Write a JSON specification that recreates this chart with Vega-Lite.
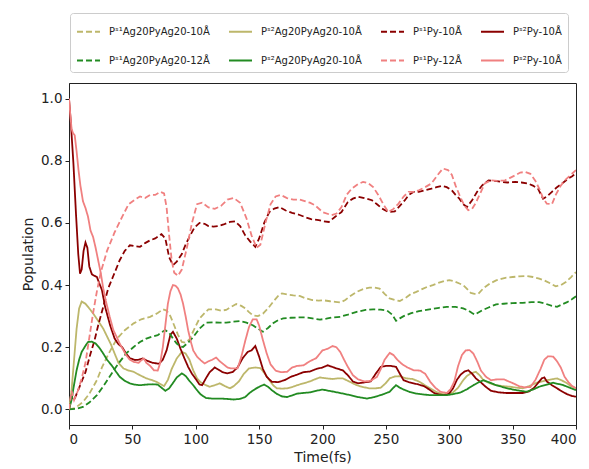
{
"$schema": "https://vega.github.io/schema/vega-lite/v6.json",
"width": 507, "height": 342,
"autosize": {"type": "none"},
"padding": {"left": 69, "top": 83, "right": 13, "bottom": 44},
"background": "white",
"config": {
  "font": "DejaVu Sans",
  "view": {"stroke": "#222", "strokeWidth": 1},
  "axis": {"grid": false, "domainColor": "#222", "tickColor": "#222", "labelColor": "#222", "titleColor": "#222", "labelFontSize": 13.5, "titleFontSize": 14, "titleFontWeight": "normal", "tickSize": 4, "labelPadding": 3}
},
"datasets": {"pts": [
{"s":"k1","t":0,"v":0},{"s":"k1","t":5,"v":0.005},{"s":"k1","t":11,"v":0.024},{"s":"k1","t":16,"v":0.05},{"s":"k1","t":22,"v":0.094},{"s":"k1","t":26,"v":0.135},{"s":"k1","t":30,"v":0.169},{"s":"k1","t":34,"v":0.2},{"s":"k1","t":38,"v":0.228},{"s":"k1","t":44,"v":0.255},{"s":"k1","t":51,"v":0.277},{"s":"k1","t":57,"v":0.29},{"s":"k1","t":64,"v":0.298},{"s":"k1","t":70,"v":0.31},{"s":"k1","t":74,"v":0.322},{"s":"k1","t":77,"v":0.318},{"s":"k1","t":80,"v":0.3},{"s":"k1","t":83,"v":0.27},{"s":"k1","t":86,"v":0.24},{"s":"k1","t":89,"v":0.217},{"s":"k1","t":92,"v":0.215},{"s":"k1","t":95,"v":0.225},{"s":"k1","t":99,"v":0.26},{"s":"k1","t":103,"v":0.293},{"s":"k1","t":107,"v":0.31},{"s":"k1","t":110,"v":0.322},{"s":"k1","t":116,"v":0.322},{"s":"k1","t":120,"v":0.318},{"s":"k1","t":124,"v":0.32},{"s":"k1","t":128,"v":0.33},{"s":"k1","t":132,"v":0.339},{"s":"k1","t":136,"v":0.333},{"s":"k1","t":139,"v":0.325},{"s":"k1","t":142,"v":0.313},{"s":"k1","t":145,"v":0.303},{"s":"k1","t":149,"v":0.3},{"s":"k1","t":153,"v":0.308},{"s":"k1","t":157,"v":0.325},{"s":"k1","t":161,"v":0.346},{"s":"k1","t":165,"v":0.365},{"s":"k1","t":168,"v":0.373},{"s":"k1","t":172,"v":0.37},{"s":"k1","t":177,"v":0.367},{"s":"k1","t":182,"v":0.365},{"s":"k1","t":187,"v":0.357},{"s":"k1","t":192,"v":0.352},{"s":"k1","t":197,"v":0.35},{"s":"k1","t":201,"v":0.351},{"s":"k1","t":206,"v":0.348},{"s":"k1","t":210,"v":0.346},{"s":"k1","t":214,"v":0.344},{"s":"k1","t":218,"v":0.352},{"s":"k1","t":222,"v":0.365},{"s":"k1","t":227,"v":0.378},{"s":"k1","t":232,"v":0.387},{"s":"k1","t":237,"v":0.392},{"s":"k1","t":241,"v":0.392},{"s":"k1","t":245,"v":0.389},{"s":"k1","t":249,"v":0.372},{"s":"k1","t":253,"v":0.357},{"s":"k1","t":257,"v":0.352},{"s":"k1","t":261,"v":0.349},{"s":"k1","t":266,"v":0.36},{"s":"k1","t":270,"v":0.372},{"s":"k1","t":274,"v":0.378},{"s":"k1","t":279,"v":0.388},{"s":"k1","t":283,"v":0.395},{"s":"k1","t":287,"v":0.4},{"s":"k1","t":292,"v":0.408},{"s":"k1","t":296,"v":0.413},{"s":"k1","t":300,"v":0.416},{"s":"k1","t":304,"v":0.412},{"s":"k1","t":308,"v":0.405},{"s":"k1","t":311,"v":0.4},{"s":"k1","t":314,"v":0.388},{"s":"k1","t":317,"v":0.375},{"s":"k1","t":320,"v":0.372},{"s":"k1","t":323,"v":0.372},{"s":"k1","t":327,"v":0.39},{"s":"k1","t":332,"v":0.405},{"s":"k1","t":337,"v":0.415},{"s":"k1","t":341,"v":0.42},{"s":"k1","t":345,"v":0.424},{"s":"k1","t":350,"v":0.426},{"s":"k1","t":355,"v":0.428},{"s":"k1","t":361,"v":0.429},{"s":"k1","t":366,"v":0.426},{"s":"k1","t":371,"v":0.421},{"s":"k1","t":375,"v":0.415},{"s":"k1","t":380,"v":0.405},{"s":"k1","t":384,"v":0.396},{"s":"k1","t":388,"v":0.4},{"s":"k1","t":392,"v":0.41},{"s":"k1","t":396,"v":0.425},{"s":"k1","t":400,"v":0.442},

{"s":"k2","t":0,"v":0},{"s":"k2","t":2,"v":0.06},{"s":"k2","t":4,"v":0.16},{"s":"k2","t":6,"v":0.26},{"s":"k2","t":8,"v":0.325},{"s":"k2","t":10,"v":0.347},{"s":"k2","t":13,"v":0.34},{"s":"k2","t":16,"v":0.325},{"s":"k2","t":19,"v":0.309},{"s":"k2","t":23,"v":0.285},{"s":"k2","t":27,"v":0.26},{"s":"k2","t":30,"v":0.235},{"s":"k2","t":33,"v":0.21},{"s":"k2","t":36,"v":0.18},{"s":"k2","t":39,"v":0.15},{"s":"k2","t":43,"v":0.132},{"s":"k2","t":47,"v":0.125},{"s":"k2","t":51,"v":0.121},{"s":"k2","t":56,"v":0.11},{"s":"k2","t":61,"v":0.1},{"s":"k2","t":65,"v":0.095},{"s":"k2","t":69,"v":0.089},{"s":"k2","t":72,"v":0.082},{"s":"k2","t":75,"v":0.075},{"s":"k2","t":78,"v":0.095},{"s":"k2","t":81,"v":0.13},{"s":"k2","t":85,"v":0.164},{"s":"k2","t":89,"v":0.185},{"s":"k2","t":92,"v":0.18},{"s":"k2","t":95,"v":0.16},{"s":"k2","t":98,"v":0.126},{"s":"k2","t":101,"v":0.1},{"s":"k2","t":104,"v":0.087},{"s":"k2","t":108,"v":0.078},{"s":"k2","t":111,"v":0.073},{"s":"k2","t":115,"v":0.078},{"s":"k2","t":119,"v":0.084},{"s":"k2","t":123,"v":0.075},{"s":"k2","t":127,"v":0.068},{"s":"k2","t":130,"v":0.075},{"s":"k2","t":134,"v":0.09},{"s":"k2","t":138,"v":0.115},{"s":"k2","t":142,"v":0.132},{"s":"k2","t":147,"v":0.135},{"s":"k2","t":151,"v":0.133},{"s":"k2","t":154,"v":0.118},{"s":"k2","t":157,"v":0.1},{"s":"k2","t":161,"v":0.078},{"s":"k2","t":164,"v":0.068},{"s":"k2","t":168,"v":0.067},{"s":"k2","t":172,"v":0.068},{"s":"k2","t":176,"v":0.072},{"s":"k2","t":180,"v":0.078},{"s":"k2","t":185,"v":0.084},{"s":"k2","t":190,"v":0.09},{"s":"k2","t":194,"v":0.097},{"s":"k2","t":198,"v":0.103},{"s":"k2","t":203,"v":0.1},{"s":"k2","t":208,"v":0.098},{"s":"k2","t":212,"v":0.1},{"s":"k2","t":216,"v":0.1},{"s":"k2","t":221,"v":0.09},{"s":"k2","t":227,"v":0.078},{"s":"k2","t":232,"v":0.072},{"s":"k2","t":237,"v":0.068},{"s":"k2","t":242,"v":0.068},{"s":"k2","t":246,"v":0.07},{"s":"k2","t":250,"v":0.085},{"s":"k2","t":253,"v":0.1},{"s":"k2","t":257,"v":0.106},{"s":"k2","t":261,"v":0.107},{"s":"k2","t":266,"v":0.1},{"s":"k2","t":271,"v":0.098},{"s":"k2","t":276,"v":0.09},{"s":"k2","t":280,"v":0.08},{"s":"k2","t":285,"v":0.068},{"s":"k2","t":290,"v":0.056},{"s":"k2","t":295,"v":0.049},{"s":"k2","t":299,"v":0.05},{"s":"k2","t":303,"v":0.055},{"s":"k2","t":307,"v":0.07},{"s":"k2","t":311,"v":0.094},{"s":"k2","t":314,"v":0.108},{"s":"k2","t":317,"v":0.116},{"s":"k2","t":321,"v":0.121},{"s":"k2","t":324,"v":0.11},{"s":"k2","t":327,"v":0.094},{"s":"k2","t":332,"v":0.084},{"s":"k2","t":337,"v":0.078},{"s":"k2","t":342,"v":0.075},{"s":"k2","t":348,"v":0.073},{"s":"k2","t":353,"v":0.07},{"s":"k2","t":358,"v":0.068},{"s":"k2","t":363,"v":0.075},{"s":"k2","t":369,"v":0.086},{"s":"k2","t":373,"v":0.09},{"s":"k2","t":377,"v":0.094},{"s":"k2","t":381,"v":0.097},{"s":"k2","t":385,"v":0.1},{"s":"k2","t":389,"v":0.093},{"s":"k2","t":393,"v":0.084},{"s":"k2","t":396,"v":0.075},{"s":"k2","t":400,"v":0.068},

{"s":"k3","t":0,"v":0},{"s":"k3","t":2,"v":0.04},{"s":"k3","t":4,"v":0.03},{"s":"k3","t":6,"v":0.05},{"s":"k3","t":9,"v":0.08},{"s":"k3","t":13,"v":0.12},{"s":"k3","t":17,"v":0.18},{"s":"k3","t":20,"v":0.22},{"s":"k3","t":23,"v":0.27},{"s":"k3","t":27,"v":0.33},{"s":"k3","t":31,"v":0.39},{"s":"k3","t":35,"v":0.43},{"s":"k3","t":40,"v":0.48},{"s":"k3","t":44,"v":0.51},{"s":"k3","t":48,"v":0.528},{"s":"k3","t":52,"v":0.525},{"s":"k3","t":56,"v":0.523},{"s":"k3","t":60,"v":0.535},{"s":"k3","t":64,"v":0.544},{"s":"k3","t":68,"v":0.55},{"s":"k3","t":73,"v":0.564},{"s":"k3","t":76,"v":0.55},{"s":"k3","t":79,"v":0.49},{"s":"k3","t":82,"v":0.464},{"s":"k3","t":85,"v":0.475},{"s":"k3","t":89,"v":0.5},{"s":"k3","t":92,"v":0.53},{"s":"k3","t":95,"v":0.555},{"s":"k3","t":99,"v":0.585},{"s":"k3","t":103,"v":0.6},{"s":"k3","t":107,"v":0.597},{"s":"k3","t":110,"v":0.59},{"s":"k3","t":114,"v":0.588},{"s":"k3","t":118,"v":0.59},{"s":"k3","t":122,"v":0.595},{"s":"k3","t":127,"v":0.603},{"s":"k3","t":131,"v":0.605},{"s":"k3","t":135,"v":0.59},{"s":"k3","t":139,"v":0.56},{"s":"k3","t":143,"v":0.54},{"s":"k3","t":147,"v":0.523},{"s":"k3","t":150,"v":0.55},{"s":"k3","t":154,"v":0.6},{"s":"k3","t":158,"v":0.635},{"s":"k3","t":162,"v":0.646},{"s":"k3","t":166,"v":0.651},{"s":"k3","t":171,"v":0.64},{"s":"k3","t":176,"v":0.632},{"s":"k3","t":181,"v":0.627},{"s":"k3","t":186,"v":0.619},{"s":"k3","t":191,"v":0.612},{"s":"k3","t":197,"v":0.609},{"s":"k3","t":201,"v":0.605},{"s":"k3","t":205,"v":0.603},{"s":"k3","t":210,"v":0.62},{"s":"k3","t":215,"v":0.635},{"s":"k3","t":220,"v":0.667},{"s":"k3","t":224,"v":0.678},{"s":"k3","t":228,"v":0.684},{"s":"k3","t":233,"v":0.68},{"s":"k3","t":239,"v":0.673},{"s":"k3","t":243,"v":0.66},{"s":"k3","t":247,"v":0.646},{"s":"k3","t":252,"v":0.635},{"s":"k3","t":257,"v":0.637},{"s":"k3","t":261,"v":0.655},{"s":"k3","t":265,"v":0.673},{"s":"k3","t":268,"v":0.69},{"s":"k3","t":272,"v":0.7},{"s":"k3","t":276,"v":0.7},{"s":"k3","t":281,"v":0.705},{"s":"k3","t":286,"v":0.71},{"s":"k3","t":290,"v":0.715},{"s":"k3","t":294,"v":0.719},{"s":"k3","t":298,"v":0.715},{"s":"k3","t":302,"v":0.705},{"s":"k3","t":305,"v":0.69},{"s":"k3","t":308,"v":0.678},{"s":"k3","t":311,"v":0.66},{"s":"k3","t":314,"v":0.651},{"s":"k3","t":318,"v":0.673},{"s":"k3","t":322,"v":0.7},{"s":"k3","t":326,"v":0.721},{"s":"k3","t":331,"v":0.737},{"s":"k3","t":336,"v":0.735},{"s":"k3","t":341,"v":0.732},{"s":"k3","t":346,"v":0.73},{"s":"k3","t":352,"v":0.732},{"s":"k3","t":357,"v":0.73},{"s":"k3","t":362,"v":0.727},{"s":"k3","t":366,"v":0.72},{"s":"k3","t":370,"v":0.71},{"s":"k3","t":374,"v":0.678},{"s":"k3","t":377,"v":0.685},{"s":"k3","t":381,"v":0.7},{"s":"k3","t":385,"v":0.715},{"s":"k3","t":389,"v":0.727},{"s":"k3","t":394,"v":0.743},{"s":"k3","t":397,"v":0.75},{"s":"k3","t":400,"v":0.76},

{"s":"k4","t":0,"v":1.0},{"s":"k4","t":1.5,"v":0.92},{"s":"k4","t":3.5,"v":0.79},{"s":"k4","t":5.5,"v":0.63},{"s":"k4","t":7.3,"v":0.5},{"s":"k4","t":8.7,"v":0.437},{"s":"k4","t":10,"v":0.45},{"s":"k4","t":11.5,"v":0.51},{"s":"k4","t":13,"v":0.537},{"s":"k4","t":14.5,"v":0.52},{"s":"k4","t":16,"v":0.46},{"s":"k4","t":18,"v":0.435},{"s":"k4","t":20,"v":0.43},{"s":"k4","t":22,"v":0.426},{"s":"k4","t":24,"v":0.405},{"s":"k4","t":26,"v":0.384},{"s":"k4","t":28.5,"v":0.33},{"s":"k4","t":30.5,"v":0.3},{"s":"k4","t":32.5,"v":0.27},{"s":"k4","t":36,"v":0.228},{"s":"k4","t":39,"v":0.21},{"s":"k4","t":42,"v":0.2},{"s":"k4","t":45,"v":0.18},{"s":"k4","t":48,"v":0.165},{"s":"k4","t":52,"v":0.159},{"s":"k4","t":55,"v":0.16},{"s":"k4","t":58,"v":0.164},{"s":"k4","t":62,"v":0.156},{"s":"k4","t":66,"v":0.15},{"s":"k4","t":71,"v":0.147},{"s":"k4","t":74,"v":0.16},{"s":"k4","t":77,"v":0.19},{"s":"k4","t":80,"v":0.24},{"s":"k4","t":82,"v":0.25},{"s":"k4","t":85,"v":0.228},{"s":"k4","t":88,"v":0.195},{"s":"k4","t":91,"v":0.165},{"s":"k4","t":94,"v":0.137},{"s":"k4","t":97,"v":0.115},{"s":"k4","t":100,"v":0.098},{"s":"k4","t":103,"v":0.08},{"s":"k4","t":105,"v":0.078},{"s":"k4","t":108,"v":0.1},{"s":"k4","t":111,"v":0.12},{"s":"k4","t":115,"v":0.135},{"s":"k4","t":118,"v":0.128},{"s":"k4","t":121,"v":0.12},{"s":"k4","t":125,"v":0.116},{"s":"k4","t":129,"v":0.12},{"s":"k4","t":133,"v":0.135},{"s":"k4","t":137,"v":0.165},{"s":"k4","t":141,"v":0.185},{"s":"k4","t":144,"v":0.19},{"s":"k4","t":147,"v":0.204},{"s":"k4","t":150,"v":0.17},{"s":"k4","t":153,"v":0.13},{"s":"k4","t":156,"v":0.105},{"s":"k4","t":160,"v":0.089},{"s":"k4","t":165,"v":0.088},{"s":"k4","t":170,"v":0.094},{"s":"k4","t":175,"v":0.105},{"s":"k4","t":180,"v":0.112},{"s":"k4","t":185,"v":0.12},{"s":"k4","t":190,"v":0.122},{"s":"k4","t":195,"v":0.13},{"s":"k4","t":200,"v":0.135},{"s":"k4","t":204,"v":0.142},{"s":"k4","t":207,"v":0.138},{"s":"k4","t":211,"v":0.132},{"s":"k4","t":216,"v":0.126},{"s":"k4","t":220,"v":0.11},{"s":"k4","t":224,"v":0.09},{"s":"k4","t":228,"v":0.084},{"s":"k4","t":233,"v":0.087},{"s":"k4","t":238,"v":0.09},{"s":"k4","t":242,"v":0.115},{"s":"k4","t":246,"v":0.137},{"s":"k4","t":250,"v":0.14},{"s":"k4","t":254,"v":0.14},{"s":"k4","t":258,"v":0.137},{"s":"k4","t":261,"v":0.115},{"s":"k4","t":264,"v":0.094},{"s":"k4","t":268,"v":0.088},{"s":"k4","t":272,"v":0.084},{"s":"k4","t":276,"v":0.08},{"s":"k4","t":280,"v":0.075},{"s":"k4","t":284,"v":0.065},{"s":"k4","t":288,"v":0.053},{"s":"k4","t":292,"v":0.048},{"s":"k4","t":296,"v":0.046},{"s":"k4","t":300,"v":0.052},{"s":"k4","t":303,"v":0.068},{"s":"k4","t":306,"v":0.095},{"s":"k4","t":309,"v":0.112},{"s":"k4","t":312,"v":0.122},{"s":"k4","t":315,"v":0.126},{"s":"k4","t":318,"v":0.115},{"s":"k4","t":321,"v":0.1},{"s":"k4","t":325,"v":0.087},{"s":"k4","t":329,"v":0.072},{"s":"k4","t":333,"v":0.06},{"s":"k4","t":339,"v":0.055},{"s":"k4","t":345,"v":0.053},{"s":"k4","t":352,"v":0.053},{"s":"k4","t":358,"v":0.053},{"s":"k4","t":363,"v":0.058},{"s":"k4","t":367,"v":0.07},{"s":"k4","t":370,"v":0.085},{"s":"k4","t":373,"v":0.1},{"s":"k4","t":375,"v":0.103},{"s":"k4","t":377,"v":0.09},{"s":"k4","t":381,"v":0.078},{"s":"k4","t":385,"v":0.068},{"s":"k4","t":389,"v":0.058},{"s":"k4","t":393,"v":0.049},{"s":"k4","t":397,"v":0.043},{"s":"k4","t":400,"v":0.041},

{"s":"k5","t":0,"v":0},{"s":"k5","t":6,"v":0.002},{"s":"k5","t":11,"v":0.008},{"s":"k5","t":16,"v":0.022},{"s":"k5","t":22,"v":0.046},{"s":"k5","t":27,"v":0.074},{"s":"k5","t":32,"v":0.105},{"s":"k5","t":36,"v":0.13},{"s":"k5","t":40,"v":0.153},{"s":"k5","t":45,"v":0.18},{"s":"k5","t":51,"v":0.201},{"s":"k5","t":56,"v":0.217},{"s":"k5","t":61,"v":0.228},{"s":"k5","t":66,"v":0.235},{"s":"k5","t":70,"v":0.239},{"s":"k5","t":73,"v":0.248},{"s":"k5","t":76,"v":0.255},{"s":"k5","t":79,"v":0.247},{"s":"k5","t":82,"v":0.228},{"s":"k5","t":85,"v":0.212},{"s":"k5","t":88,"v":0.203},{"s":"k5","t":90,"v":0.201},{"s":"k5","t":94,"v":0.215},{"s":"k5","t":98,"v":0.233},{"s":"k5","t":103,"v":0.26},{"s":"k5","t":108,"v":0.279},{"s":"k5","t":114,"v":0.28},{"s":"k5","t":119,"v":0.279},{"s":"k5","t":124,"v":0.279},{"s":"k5","t":129,"v":0.282},{"s":"k5","t":135,"v":0.284},{"s":"k5","t":140,"v":0.279},{"s":"k5","t":145,"v":0.271},{"s":"k5","t":149,"v":0.26},{"s":"k5","t":153,"v":0.25},{"s":"k5","t":157,"v":0.262},{"s":"k5","t":161,"v":0.277},{"s":"k5","t":165,"v":0.287},{"s":"k5","t":169,"v":0.293},{"s":"k5","t":175,"v":0.295},{"s":"k5","t":181,"v":0.296},{"s":"k5","t":187,"v":0.296},{"s":"k5","t":192,"v":0.293},{"s":"k5","t":198,"v":0.289},{"s":"k5","t":203,"v":0.292},{"s":"k5","t":208,"v":0.296},{"s":"k5","t":214,"v":0.298},{"s":"k5","t":220,"v":0.305},{"s":"k5","t":227,"v":0.314},{"s":"k5","t":234,"v":0.32},{"s":"k5","t":240,"v":0.322},{"s":"k5","t":246,"v":0.321},{"s":"k5","t":251,"v":0.318},{"s":"k5","t":255,"v":0.305},{"s":"k5","t":258,"v":0.285},{"s":"k5","t":261,"v":0.293},{"s":"k5","t":264,"v":0.3},{"s":"k5","t":270,"v":0.31},{"s":"k5","t":276,"v":0.316},{"s":"k5","t":280,"v":0.319},{"s":"k5","t":286,"v":0.323},{"s":"k5","t":292,"v":0.327},{"s":"k5","t":298,"v":0.33},{"s":"k5","t":305,"v":0.33},{"s":"k5","t":311,"v":0.325},{"s":"k5","t":315,"v":0.318},{"s":"k5","t":318,"v":0.31},{"s":"k5","t":320,"v":0.305},{"s":"k5","t":323,"v":0.312},{"s":"k5","t":326,"v":0.319},{"s":"k5","t":331,"v":0.328},{"s":"k5","t":337,"v":0.338},{"s":"k5","t":343,"v":0.34},{"s":"k5","t":350,"v":0.342},{"s":"k5","t":358,"v":0.343},{"s":"k5","t":365,"v":0.345},{"s":"k5","t":371,"v":0.345},{"s":"k5","t":376,"v":0.34},{"s":"k5","t":381,"v":0.333},{"s":"k5","t":385,"v":0.33},{"s":"k5","t":389,"v":0.338},{"s":"k5","t":393,"v":0.345},{"s":"k5","t":397,"v":0.355},{"s":"k5","t":400,"v":0.364},

{"s":"k6","t":0,"v":0},{"s":"k6","t":2,"v":0.03},{"s":"k6","t":4,"v":0.08},{"s":"k6","t":6,"v":0.126},{"s":"k6","t":8,"v":0.16},{"s":"k6","t":10,"v":0.185},{"s":"k6","t":13,"v":0.205},{"s":"k6","t":15,"v":0.217},{"s":"k6","t":18,"v":0.218},{"s":"k6","t":21,"v":0.212},{"s":"k6","t":24,"v":0.198},{"s":"k6","t":27,"v":0.18},{"s":"k6","t":30,"v":0.16},{"s":"k6","t":34,"v":0.14},{"s":"k6","t":37,"v":0.122},{"s":"k6","t":40,"v":0.105},{"s":"k6","t":44,"v":0.092},{"s":"k6","t":48,"v":0.084},{"s":"k6","t":52,"v":0.08},{"s":"k6","t":56,"v":0.078},{"s":"k6","t":61,"v":0.08},{"s":"k6","t":66,"v":0.081},{"s":"k6","t":70,"v":0.08},{"s":"k6","t":73,"v":0.07},{"s":"k6","t":76,"v":0.06},{"s":"k6","t":79,"v":0.068},{"s":"k6","t":82,"v":0.085},{"s":"k6","t":85,"v":0.103},{"s":"k6","t":89,"v":0.116},{"s":"k6","t":92,"v":0.108},{"s":"k6","t":95,"v":0.092},{"s":"k6","t":98,"v":0.078},{"s":"k6","t":101,"v":0.062},{"s":"k6","t":104,"v":0.048},{"s":"k6","t":108,"v":0.037},{"s":"k6","t":113,"v":0.035},{"s":"k6","t":119,"v":0.035},{"s":"k6","t":124,"v":0.034},{"s":"k6","t":130,"v":0.032},{"s":"k6","t":135,"v":0.034},{"s":"k6","t":139,"v":0.04},{"s":"k6","t":143,"v":0.055},{"s":"k6","t":147,"v":0.066},{"s":"k6","t":151,"v":0.075},{"s":"k6","t":154,"v":0.08},{"s":"k6","t":157,"v":0.073},{"s":"k6","t":160,"v":0.062},{"s":"k6","t":164,"v":0.05},{"s":"k6","t":168,"v":0.042},{"s":"k6","t":172,"v":0.04},{"s":"k6","t":176,"v":0.045},{"s":"k6","t":180,"v":0.051},{"s":"k6","t":185,"v":0.053},{"s":"k6","t":190,"v":0.055},{"s":"k6","t":195,"v":0.06},{"s":"k6","t":200,"v":0.064},{"s":"k6","t":205,"v":0.06},{"s":"k6","t":209,"v":0.057},{"s":"k6","t":215,"v":0.052},{"s":"k6","t":222,"v":0.046},{"s":"k6","t":228,"v":0.04},{"s":"k6","t":235,"v":0.035},{"s":"k6","t":241,"v":0.04},{"s":"k6","t":248,"v":0.049},{"s":"k6","t":253,"v":0.057},{"s":"k6","t":256,"v":0.07},{"s":"k6","t":258,"v":0.078},{"s":"k6","t":261,"v":0.07},{"s":"k6","t":264,"v":0.064},{"s":"k6","t":269,"v":0.056},{"s":"k6","t":274,"v":0.051},{"s":"k6","t":280,"v":0.048},{"s":"k6","t":285,"v":0.046},{"s":"k6","t":292,"v":0.046},{"s":"k6","t":298,"v":0.046},{"s":"k6","t":304,"v":0.05},{"s":"k6","t":309,"v":0.055},{"s":"k6","t":314,"v":0.065},{"s":"k6","t":319,"v":0.078},{"s":"k6","t":323,"v":0.087},{"s":"k6","t":327,"v":0.094},{"s":"k6","t":331,"v":0.088},{"s":"k6","t":337,"v":0.078},{"s":"k6","t":344,"v":0.07},{"s":"k6","t":350,"v":0.064},{"s":"k6","t":356,"v":0.06},{"s":"k6","t":361,"v":0.057},{"s":"k6","t":366,"v":0.064},{"s":"k6","t":371,"v":0.073},{"s":"k6","t":377,"v":0.08},{"s":"k6","t":382,"v":0.086},{"s":"k6","t":386,"v":0.082},{"s":"k6","t":390,"v":0.078},{"s":"k6","t":395,"v":0.07},{"s":"k6","t":400,"v":0.062},

{"s":"k7","t":0,"v":0},{"s":"k7","t":2,"v":0.06},{"s":"k7","t":4,"v":0.03},{"s":"k7","t":7,"v":0.06},{"s":"k7","t":10,"v":0.1},{"s":"k7","t":13,"v":0.15},{"s":"k7","t":16,"v":0.23},{"s":"k7","t":19,"v":0.31},{"s":"k7","t":22,"v":0.38},{"s":"k7","t":25,"v":0.44},{"s":"k7","t":30,"v":0.51},{"s":"k7","t":36,"v":0.57},{"s":"k7","t":42,"v":0.62},{"s":"k7","t":47,"v":0.66},{"s":"k7","t":52,"v":0.675},{"s":"k7","t":56,"v":0.685},{"s":"k7","t":60,"v":0.68},{"s":"k7","t":64,"v":0.69},{"s":"k7","t":68,"v":0.69},{"s":"k7","t":72,"v":0.7},{"s":"k7","t":75,"v":0.695},{"s":"k7","t":77,"v":0.65},{"s":"k7","t":79,"v":0.56},{"s":"k7","t":81,"v":0.48},{"s":"k7","t":83,"v":0.44},{"s":"k7","t":86,"v":0.43},{"s":"k7","t":89,"v":0.45},{"s":"k7","t":93,"v":0.52},{"s":"k7","t":97,"v":0.6},{"s":"k7","t":101,"v":0.66},{"s":"k7","t":105,"v":0.665},{"s":"k7","t":110,"v":0.65},{"s":"k7","t":115,"v":0.645},{"s":"k7","t":120,"v":0.655},{"s":"k7","t":125,"v":0.675},{"s":"k7","t":130,"v":0.68},{"s":"k7","t":135,"v":0.665},{"s":"k7","t":140,"v":0.615},{"s":"k7","t":144,"v":0.56},{"s":"k7","t":148,"v":0.52},{"s":"k7","t":151,"v":0.53},{"s":"k7","t":155,"v":0.6},{"s":"k7","t":159,"v":0.66},{"s":"k7","t":163,"v":0.685},{"s":"k7","t":167,"v":0.69},{"s":"k7","t":172,"v":0.68},{"s":"k7","t":177,"v":0.675},{"s":"k7","t":182,"v":0.675},{"s":"k7","t":186,"v":0.67},{"s":"k7","t":190,"v":0.665},{"s":"k7","t":194,"v":0.657},{"s":"k7","t":200,"v":0.635},{"s":"k7","t":207,"v":0.625},{"s":"k7","t":211,"v":0.63},{"s":"k7","t":215,"v":0.651},{"s":"k7","t":219,"v":0.69},{"s":"k7","t":223,"v":0.71},{"s":"k7","t":228,"v":0.725},{"s":"k7","t":232,"v":0.732},{"s":"k7","t":236,"v":0.728},{"s":"k7","t":240,"v":0.715},{"s":"k7","t":244,"v":0.69},{"s":"k7","t":248,"v":0.66},{"s":"k7","t":252,"v":0.635},{"s":"k7","t":256,"v":0.645},{"s":"k7","t":260,"v":0.662},{"s":"k7","t":264,"v":0.685},{"s":"k7","t":268,"v":0.7},{"s":"k7","t":272,"v":0.7},{"s":"k7","t":276,"v":0.705},{"s":"k7","t":281,"v":0.715},{"s":"k7","t":286,"v":0.727},{"s":"k7","t":291,"v":0.755},{"s":"k7","t":295,"v":0.775},{"s":"k7","t":299,"v":0.77},{"s":"k7","t":302,"v":0.755},{"s":"k7","t":305,"v":0.72},{"s":"k7","t":308,"v":0.69},{"s":"k7","t":312,"v":0.655},{"s":"k7","t":315,"v":0.641},{"s":"k7","t":318,"v":0.645},{"s":"k7","t":321,"v":0.665},{"s":"k7","t":325,"v":0.7},{"s":"k7","t":328,"v":0.727},{"s":"k7","t":333,"v":0.737},{"s":"k7","t":338,"v":0.735},{"s":"k7","t":344,"v":0.737},{"s":"k7","t":348,"v":0.745},{"s":"k7","t":352,"v":0.753},{"s":"k7","t":356,"v":0.762},{"s":"k7","t":360,"v":0.764},{"s":"k7","t":364,"v":0.758},{"s":"k7","t":368,"v":0.735},{"s":"k7","t":371,"v":0.71},{"s":"k7","t":374,"v":0.68},{"s":"k7","t":377,"v":0.662},{"s":"k7","t":381,"v":0.66},{"s":"k7","t":384,"v":0.69},{"s":"k7","t":388,"v":0.72},{"s":"k7","t":392,"v":0.74},{"s":"k7","t":396,"v":0.755},{"s":"k7","t":400,"v":0.77},

{"s":"k8","t":0,"v":1.0},{"s":"k8","t":1,"v":0.95},{"s":"k8","t":2,"v":0.904},{"s":"k8","t":3,"v":0.89},{"s":"k8","t":4.5,"v":0.882},{"s":"k8","t":6,"v":0.83},{"s":"k8","t":7.5,"v":0.77},{"s":"k8","t":9,"v":0.72},{"s":"k8","t":11,"v":0.67},{"s":"k8","t":13,"v":0.648},{"s":"k8","t":15,"v":0.62},{"s":"k8","t":17,"v":0.575},{"s":"k8","t":19,"v":0.555},{"s":"k8","t":21,"v":0.52},{"s":"k8","t":23,"v":0.48},{"s":"k8","t":25,"v":0.44},{"s":"k8","t":27,"v":0.39},{"s":"k8","t":29,"v":0.35},{"s":"k8","t":32,"v":0.3},{"s":"k8","t":35,"v":0.255},{"s":"k8","t":38,"v":0.23},{"s":"k8","t":40,"v":0.212},{"s":"k8","t":43,"v":0.19},{"s":"k8","t":45,"v":0.175},{"s":"k8","t":48,"v":0.16},{"s":"k8","t":51,"v":0.153},{"s":"k8","t":55,"v":0.15},{"s":"k8","t":57,"v":0.158},{"s":"k8","t":59,"v":0.164},{"s":"k8","t":61,"v":0.15},{"s":"k8","t":64,"v":0.14},{"s":"k8","t":67,"v":0.126},{"s":"k8","t":70,"v":0.125},{"s":"k8","t":72,"v":0.15},{"s":"k8","t":74,"v":0.2},{"s":"k8","t":76,"v":0.27},{"s":"k8","t":78,"v":0.34},{"s":"k8","t":80,"v":0.38},{"s":"k8","t":82,"v":0.4},{"s":"k8","t":84,"v":0.398},{"s":"k8","t":86,"v":0.389},{"s":"k8","t":88,"v":0.37},{"s":"k8","t":90,"v":0.34},{"s":"k8","t":92,"v":0.3},{"s":"k8","t":94,"v":0.255},{"s":"k8","t":96,"v":0.22},{"s":"k8","t":98,"v":0.19},{"s":"k8","t":101,"v":0.17},{"s":"k8","t":104,"v":0.158},{"s":"k8","t":107,"v":0.148},{"s":"k8","t":110,"v":0.155},{"s":"k8","t":113,"v":0.16},{"s":"k8","t":116,"v":0.167},{"s":"k8","t":119,"v":0.155},{"s":"k8","t":122,"v":0.145},{"s":"k8","t":125,"v":0.135},{"s":"k8","t":128,"v":0.132},{"s":"k8","t":133,"v":0.132},{"s":"k8","t":136,"v":0.17},{"s":"k8","t":139,"v":0.22},{"s":"k8","t":142,"v":0.265},{"s":"k8","t":145,"v":0.29},{"s":"k8","t":148,"v":0.29},{"s":"k8","t":150,"v":0.27},{"s":"k8","t":153,"v":0.223},{"s":"k8","t":156,"v":0.18},{"s":"k8","t":159,"v":0.145},{"s":"k8","t":163,"v":0.125},{"s":"k8","t":167,"v":0.12},{"s":"k8","t":172,"v":0.121},{"s":"k8","t":176,"v":0.135},{"s":"k8","t":180,"v":0.14},{"s":"k8","t":185,"v":0.142},{"s":"k8","t":190,"v":0.155},{"s":"k8","t":195,"v":0.165},{"s":"k8","t":200,"v":0.19},{"s":"k8","t":204,"v":0.195},{"s":"k8","t":208,"v":0.204},{"s":"k8","t":211,"v":0.2},{"s":"k8","t":214,"v":0.185},{"s":"k8","t":217,"v":0.16},{"s":"k8","t":220,"v":0.137},{"s":"k8","t":224,"v":0.11},{"s":"k8","t":228,"v":0.097},{"s":"k8","t":233,"v":0.09},{"s":"k8","t":238,"v":0.092},{"s":"k8","t":243,"v":0.105},{"s":"k8","t":246,"v":0.13},{"s":"k8","t":249,"v":0.16},{"s":"k8","t":253,"v":0.182},{"s":"k8","t":256,"v":0.175},{"s":"k8","t":259,"v":0.16},{"s":"k8","t":263,"v":0.145},{"s":"k8","t":267,"v":0.135},{"s":"k8","t":272,"v":0.126},{"s":"k8","t":277,"v":0.125},{"s":"k8","t":281,"v":0.115},{"s":"k8","t":285,"v":0.089},{"s":"k8","t":289,"v":0.07},{"s":"k8","t":293,"v":0.057},{"s":"k8","t":298,"v":0.053},{"s":"k8","t":301,"v":0.065},{"s":"k8","t":304,"v":0.09},{"s":"k8","t":307,"v":0.14},{"s":"k8","t":310,"v":0.175},{"s":"k8","t":313,"v":0.19},{"s":"k8","t":316,"v":0.191},{"s":"k8","t":319,"v":0.18},{"s":"k8","t":322,"v":0.155},{"s":"k8","t":325,"v":0.125},{"s":"k8","t":329,"v":0.105},{"s":"k8","t":333,"v":0.094},{"s":"k8","t":338,"v":0.097},{"s":"k8","t":343,"v":0.097},{"s":"k8","t":347,"v":0.09},{"s":"k8","t":351,"v":0.083},{"s":"k8","t":355,"v":0.075},{"s":"k8","t":359,"v":0.071},{"s":"k8","t":364,"v":0.072},{"s":"k8","t":368,"v":0.095},{"s":"k8","t":372,"v":0.13},{"s":"k8","t":375,"v":0.16},{"s":"k8","t":378,"v":0.171},{"s":"k8","t":382,"v":0.17},{"s":"k8","t":385,"v":0.155},{"s":"k8","t":388,"v":0.135},{"s":"k8","t":391,"v":0.105},{"s":"k8","t":394,"v":0.088},{"s":"k8","t":397,"v":0.075},{"s":"k8","t":400,"v":0.068}
]},
"data": {"name": "pts"},
"mark": {"type": "line", "strokeWidth": 1.8, "clip": true},
"encoding": {
  "x": {"field": "t", "type": "quantitative", "scale": {"domain": [0, 400], "nice": false, "zero": false},
        "axis": {"values": [0,50,100,150,200,250,300,350,400], "title": "Time(fs)", "titlePadding": 5}},
  "y": {"field": "v", "type": "quantitative", "scale": {"domain": [-0.05, 1.05], "nice": false, "zero": false},
        "axis": {"values": [0,0.2,0.4,0.6,0.8,1.0], "format": ".1f", "title": "Population", "titlePadding": 5}},
  "color": {"field": "s", "type": "nominal",
    "scale": {"domain": ["k1","k5","k2","k6","k3","k7","k4","k8"], "range": ["#BDB76B","#228B22","#BDB76B","#228B22","#8B0000","#F08080","#8B0000","#F08080"]},
    "legend": {"orient": "none", "legendX": 1, "legendY": -70, "columns": 4, "title": null, "symbolType": "stroke", "symbolSize": 529, "symbolStrokeWidth": 2, "labelFontSize": 10, "labelColor": "#222", "labelLimit": 250, "labelOffset": 8, "columnPadding": 15, "rowPadding": 11, "padding": 6, "strokeColor": "#cccccc", "fillColor": "white", "cornerRadius": 3,
      "labelExpr": "datum.label == 'k1' ? 'Pˢ¹Ag20PyAg20-10Å' : datum.label == 'k2' ? 'Pˢ²Ag20PyAg20-10Å' : datum.label == 'k3' ? 'Pˢ¹Py-10Å' : datum.label == 'k4' ? 'Pˢ²Py-10Å' : datum.label == 'k5' ? 'Pˢ¹Ag20PyAg20-12Å' : datum.label == 'k6' ? 'Pˢ²Ag20PyAg20-10Å' : datum.label == 'k7' ? 'Pˢ¹Py-12Å' : 'Pˢ²Py-10Å'"}},
  "strokeDash": {"field": "s", "type": "nominal",
    "scale": {"domain": ["k1","k5","k2","k6","k3","k7","k4","k8"], "range": [[6,3],[6,3],[1,0],[1,0],[6,3],[6,3],[1,0],[1,0]]},
    "legend": {"orient": "none", "legendX": 1, "legendY": -70, "columns": 4, "title": null, "symbolType": "stroke", "symbolSize": 529, "symbolStrokeWidth": 2, "labelFontSize": 10, "labelColor": "#222", "labelLimit": 250, "labelOffset": 8, "columnPadding": 15, "rowPadding": 11, "padding": 6, "strokeColor": "#cccccc", "fillColor": "white", "cornerRadius": 3,
      "labelExpr": "datum.label == 'k1' ? 'Pˢ¹Ag20PyAg20-10Å' : datum.label == 'k2' ? 'Pˢ²Ag20PyAg20-10Å' : datum.label == 'k3' ? 'Pˢ¹Py-10Å' : datum.label == 'k4' ? 'Pˢ²Py-10Å' : datum.label == 'k5' ? 'Pˢ¹Ag20PyAg20-12Å' : datum.label == 'k6' ? 'Pˢ²Ag20PyAg20-10Å' : datum.label == 'k7' ? 'Pˢ¹Py-12Å' : 'Pˢ²Py-10Å'"}}
}
}
